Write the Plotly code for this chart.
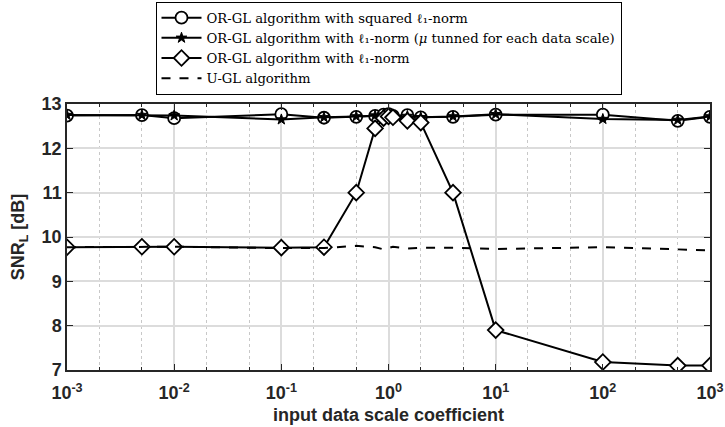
import plotly.graph_objects as go

x_scale = [1e-3, 5e-3, 1e-2, 0.1, 0.25, 0.5, 0.75, 0.9, 1.0, 1.1, 1.5, 2.0, 4.0, 10.0, 100.0, 500.0, 1000.0]
snr_sq_l1 = [12.74, 12.75, 12.68, 12.77, 12.69, 12.71, 12.73, 12.76, 12.77, 12.73, 12.75, 12.70, 12.71, 12.76, 12.76, 12.62, 12.71]
snr_l1_tuned = [12.75, 12.75, 12.74, 12.65, 12.70, 12.72, 12.74, 12.76, 12.75, 12.72, 12.73, 12.70, 12.72, 12.77, 12.66, 12.64, 12.72]
snr_l1 = [9.77, 9.78, 9.78, 9.76, 9.77, 11.0, 12.45, 12.68, 12.72, 12.70, 12.62, 12.58, 11.0, 7.9, 7.18, 7.1, 7.1]
snr_ugl = [9.77, 9.77, 9.78, 9.75, 9.75, 9.80, 9.77, 9.72, 9.76, 9.78, 9.74, 9.76, 9.76, 9.73, 9.77, 9.73, 9.70]

names = [
    "OR-GL algorithm with squared ℓ₁-norm",
    "OR-GL algorithm with ℓ₁-norm (<i>μ</i> tunned for each data scale)",
    "OR-GL algorithm with ℓ₁-norm",
    "U-GL algorithm",
]
x_ticks = [1e-3, 1e-2, 1e-1, 1, 10, 100, 1000]
x_ticktext = ["10<sup>-3</sup>", "10<sup>-2</sup>", "10<sup>-1</sup>", "10<sup>0</sup>",
              "10<sup>1</sup>", "10<sup>2</sup>", "10<sup>3</sup>"]
y_ticks = [7, 8, 9, 10, 11, 12, 13]

fig = go.Figure()
fig.add_trace(go.Scatter(
    x=x_scale, y=snr_sq_l1, name=names[0], mode="lines+markers",
    line=dict(color="black", width=2),
    marker=dict(symbol="circle", size=12, color="white", line=dict(color="black", width=1.8)),
))
fig.add_trace(go.Scatter(
    x=x_scale, y=snr_l1_tuned, name=names[1], mode="lines+markers",
    line=dict(color="black", width=2),
    marker=dict(symbol="star", size=8, color="black", line=dict(color="black", width=1)),
))
fig.add_trace(go.Scatter(
    x=x_scale, y=snr_l1, name=names[2], mode="lines+markers",
    line=dict(color="black", width=2),
    marker=dict(symbol="diamond", size=12, color="white", line=dict(color="black", width=1.8)),
))
fig.add_trace(go.Scatter(
    x=x_scale, y=snr_ugl, name=names[3], mode="lines",
    line=dict(color="black", width=2, dash="dash"),
))

fig.update_layout(
    width=725, height=427,
    margin=dict(l=67, r=15, t=104, b=57, autoexpand=False),
    plot_bgcolor="white", paper_bgcolor="white",
    showlegend=True,
    legend=dict(
        x=0.5, y=1.385, xanchor="center", yanchor="top",
        bordercolor="black", borderwidth=1, bgcolor="white",
        font=dict(family="DejaVu Serif, Liberation Serif, serif", size=13.2, color="black"),
        tracegroupgap=0, itemwidth=40,
    ),
    font=dict(family="Liberation Sans, Arial, sans-serif", color="#262626"),
)
fig.update_xaxes(
    type="log", range=[-3, 3], automargin=False,
    tickvals=x_ticks, ticktext=x_ticktext,
    tickfont=dict(size=18, family="Liberation Sans, Arial, sans-serif", weight="bold", color="#262626"),
    ticks="inside", ticklen=6, tickcolor="#262626", ticklabelstandoff=6,
    showline=True, linecolor="#262626", linewidth=1.5, mirror="ticks",
    showgrid=True, gridcolor="#dcdcdc", gridwidth=1.5,
    minor=dict(ticks="inside", ticklen=3, tickcolor="#262626", showgrid=True,
               gridcolor="#c8c8c8", griddash="dot", gridwidth=1),
    title=dict(text="<b>input data scale coefficient</b>",
               font=dict(size=18, family="Liberation Sans, Arial, sans-serif", color="#262626"), standoff=6),
    zeroline=False,
)
fig.update_yaxes(
    range=[7, 13], tickvals=y_ticks, automargin=False,
    tickfont=dict(size=18, family="Liberation Sans, Arial, sans-serif", weight="bold", color="#262626"),
    ticks="inside", ticklen=6, tickcolor="#262626",
    showline=True, linecolor="#262626", linewidth=1.5, mirror="ticks",
    showgrid=True, gridcolor="#dcdcdc", gridwidth=1.5,
    title=dict(text="<b>SNR<sub>L</sub> [dB]</b>",
               font=dict(size=18, family="Liberation Sans, Arial, sans-serif", color="#262626"), standoff=12),
    zeroline=False,
)

fig.write_html("out.html")
